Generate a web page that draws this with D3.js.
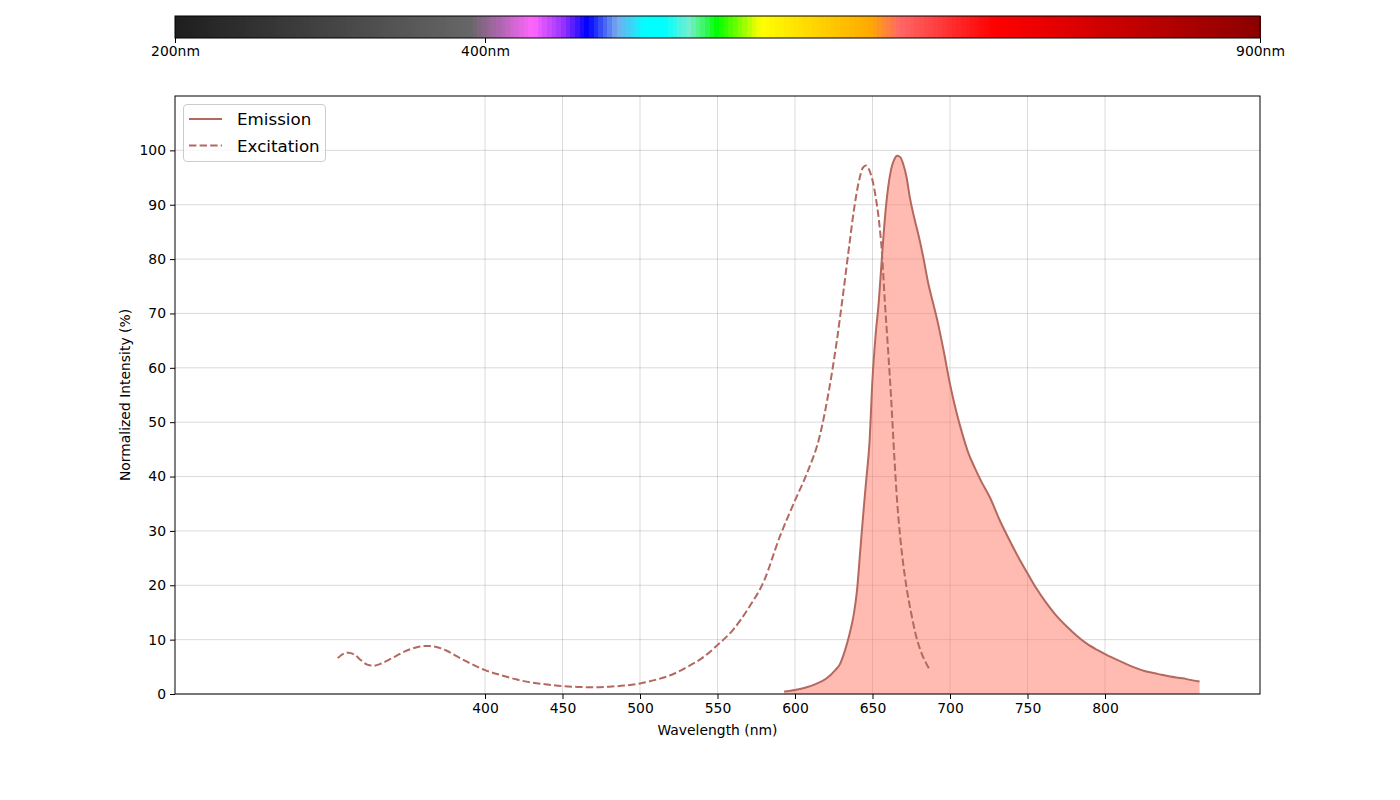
<!DOCTYPE html>
<html>
<head>
<meta charset="utf-8">
<script src="https://cdn.jsdelivr.net/npm/d3@7"></script>
<style>
  body { margin: 0; background: #fff; }
  svg { font-family: "DejaVu Sans", sans-serif; }
</style>
</head>
<body>
<svg id="chart" width="1400" height="800"></svg>
<script>
// excitation spectrum (nm, %)
const exWl = [305, 308, 312, 316, 320, 324, 328, 333, 340, 348, 356, 362, 368, 375, 382, 390, 400, 410, 420, 430, 440, 450, 460, 470, 480, 490, 500, 510, 520, 530, 540, 550, 560, 570, 580, 590, 600, 608, 616, 622, 627, 631, 635, 638, 641, 644, 646, 648, 650, 652, 654, 656, 658, 660, 662, 664, 666, 668, 670, 672, 675, 678, 681, 684, 687]
const exVal = [6.6, 7.3, 7.6, 7.2, 6.2, 5.4, 5.2, 5.6, 6.6, 7.8, 8.6, 8.85, 8.7, 8.0, 6.9, 5.7, 4.4, 3.5, 2.7, 2.1, 1.75, 1.45, 1.3, 1.25, 1.35, 1.55, 1.95, 2.6, 3.5, 4.9, 6.6, 9.0, 11.8, 15.8, 20.8, 28.8, 35.6, 40.8, 47.5, 56.0, 65.0, 73.5, 82.5, 89.0, 94.0, 96.9, 97.2, 96.3, 94.5, 91.5, 87.5, 81.5, 72.0, 63.5, 54.5, 44.0, 35.0, 28.5, 23.5, 19.5, 14.8, 10.8, 8.0, 6.0, 4.4]

// emission spectrum (nm, %)
const emWl = [593, 600, 607, 614, 620, 626, 629, 632, 635, 638, 640, 642, 644, 646, 648, 650, 652, 654, 656, 658, 660, 662, 664, 666, 668, 670, 672, 674, 677, 680, 683, 686, 689, 692, 696, 700, 704, 708, 712, 716, 720, 726, 732, 738, 744, 750, 756, 762, 768, 775, 781, 788, 795, 801, 810, 818, 826, 834, 842, 850, 855, 861]
const emVal = [0.45, 0.75, 1.2, 1.9, 2.8, 4.4, 5.5, 7.8, 10.8, 14.8, 19.0, 26.0, 33.0, 39.5, 46.0, 58.0, 66.0, 72.0, 80.0, 87.5, 93.0, 96.5, 98.3, 99.0, 98.7, 97.3, 95.0, 91.5, 87.5, 84.0, 80.0, 75.5, 72.0, 68.5, 63.0, 57.0, 52.0, 47.8, 44.2, 41.6, 39.2, 36.0, 32.0, 28.5, 25.2, 22.2, 19.3, 16.8, 14.6, 12.5, 10.9, 9.3, 8.1, 7.2, 6.0, 5.0, 4.2, 3.7, 3.2, 2.9, 2.6, 2.3]

const xTicks = [400, 450, 500, 550, 600, 650, 700, 750, 800]
const yTicks = [0, 10, 20, 30, 40, 50, 60, 70, 80, 90, 100]
const barTicks = [200, 400, 900]

// spectrum colour bar stops
const stopNm = [200, 390, 431, 450, 466, 485, 503, 516, 532, 550, 578, 648, 668, 728, 900]
const stopColor = ['#1e1e1e', '#666666', '#ff66ff', '#9933ff', '#0000ff', '#77aaee', '#00ffff', '#00ffff', '#77eecc', '#00ff00', '#ffff00', '#ffaa00', '#ff6666', '#ff0000', '#8b0000']

const lineColor = '#b4685e'

const svg = d3.select('#chart')
const plotL = 175, plotR = 1260, plotT = 96, plotB = 694

const x = d3.scaleLinear().domain([200, 900]).range([plotL, plotR])
const y = d3.scaleLinear().domain([0, 110]).range([plotB, plotT])

// ---- colour bar ----
const barTop = 16, barBottom = 38
const colorScale = d3.scaleLinear().domain(stopNm).range(stopColor).interpolate(d3.interpolateRgb)
const bandNm = d3.range(200, 900, 3)
svg.append('g')
    .attr('shape-rendering', 'crispEdges')
    .selectAll('rect')
    .data(bandNm)
    .enter()
    .append('rect')
    .attr('x', d => x(d))
    .attr('y', barTop)
    .attr('width', d => x(Math.min(d + 3, 900)) - x(d) + 1)
    .attr('height', barBottom - barTop)
    .attr('fill', d => colorScale(d + 1.5))
svg.append('rect')
    .attr('x', plotL).attr('y', barTop)
    .attr('width', plotR - plotL).attr('height', barBottom - barTop)
    .attr('fill', 'none').attr('stroke', '#000').attr('stroke-width', 1)

const barAxis = svg.append('g')
    .attr('transform', 'translate(0,' + barBottom + ')')
    .call(d3.axisBottom(x).tickValues(barTicks).tickFormat(d => d + 'nm').tickSize(5).tickPadding(3))
barAxis.select('.domain').remove()
barAxis.selectAll('text').attr('font-size', '13.9px').attr('fill', '#000').attr('font-family', 'DejaVu Sans')

// ---- grid ----
const grid = svg.append('g')
grid.selectAll('.vg').data(xTicks).enter().append('line')
    .attr('x1', d => x(d)).attr('x2', d => x(d))
    .attr('y1', plotT).attr('y2', plotB)
    .attr('stroke', '#b0b0b0').attr('stroke-opacity', 0.6).attr('stroke-width', 0.8)
grid.selectAll('.hg').data(yTicks).enter().append('line')
    .attr('x1', plotL).attr('x2', plotR)
    .attr('y1', d => y(d)).attr('y2', d => y(d))
    .attr('stroke', '#b0b0b0').attr('stroke-opacity', 0.6).attr('stroke-width', 0.8)

// ---- curves ----
const emData = emWl.map((w, i) => [w, emVal[i]])
const exData = exWl.map((w, i) => [w, exVal[i]])

const area = d3.area()
    .x(d => x(d[0]))
    .y0(y(0))
    .y1(d => y(d[1]))
    .curve(d3.curveMonotoneX)

const line = d3.line()
    .x(d => x(d[0]))
    .y(d => y(d[1]))
    .curve(d3.curveMonotoneX)

svg.append('path')
    .datum(emData)
    .attr('d', area)
    .attr('fill', '#ff7866')
    .attr('fill-opacity', 0.5)

svg.append('path')
    .datum(emData)
    .attr('d', line)
    .attr('fill', 'none')
    .attr('stroke', lineColor)
    .attr('stroke-width', 2)

svg.append('path')
    .datum(exData)
    .attr('d', line)
    .attr('fill', 'none')
    .attr('stroke', lineColor)
    .attr('stroke-width', 2)
    .attr('stroke-dasharray', '7.4,3.2')

// ---- axes ----
const xAxis = svg.append('g')
    .attr('transform', 'translate(0,' + plotB + ')')
    .call(d3.axisBottom(x).tickValues(xTicks).tickSize(5).tickPadding(4))
xAxis.select('.domain').remove()
xAxis.selectAll('text').attr('font-size', '13.9px').attr('fill', '#000').attr('font-family', 'DejaVu Sans')

const yAxis = svg.append('g')
    .attr('transform', 'translate(' + plotL + ',0)')
    .call(d3.axisLeft(y).tickValues(yTicks).tickSize(5).tickPadding(4))
yAxis.select('.domain').remove()
yAxis.selectAll('text').attr('font-size', '13.9px').attr('fill', '#000').attr('font-family', 'DejaVu Sans')

svg.append('rect')
    .attr('x', plotL).attr('y', plotT)
    .attr('width', plotR - plotL).attr('height', plotB - plotT)
    .attr('fill', 'none').attr('stroke', '#000').attr('stroke-width', 1)

svg.append('text')
    .attr('x', (plotL + plotR) / 2).attr('y', 735)
    .attr('text-anchor', 'middle')
    .attr('font-size', '13.9px')
    .text('Wavelength (nm)')

svg.append('text')
    .attr('transform', 'translate(130,' + (plotT + plotB) / 2 + ') rotate(-90)')
    .attr('text-anchor', 'middle')
    .attr('font-size', '13.9px')
    .text('Normalized Intensity (%)')

// ---- legend ----
const legend = svg.append('g')
legend.append('rect')
    .attr('x', 183.5).attr('y', 104.5)
    .attr('width', 142).attr('height', 57)
    .attr('rx', 3.5)
    .attr('fill', '#fff').attr('fill-opacity', 0.8)
    .attr('stroke', '#cccccc').attr('stroke-width', 1)

const legendItems = [
    { label: 'Emission', dash: null, yy: 119 },
    { label: 'Excitation', dash: '7.4,3.2', yy: 145.5 }
]
legendItems.forEach(it => {
    legend.append('line')
        .attr('x1', 189).attr('x2', 222)
        .attr('y1', it.yy).attr('y2', it.yy)
        .attr('stroke', lineColor).attr('stroke-width', 2)
        .attr('stroke-dasharray', it.dash)
    legend.append('text')
        .attr('x', 237).attr('y', it.yy + 6)
        .attr('font-size', '16.7px')
        .text(it.label)
})
</script>
</body>
</html>
